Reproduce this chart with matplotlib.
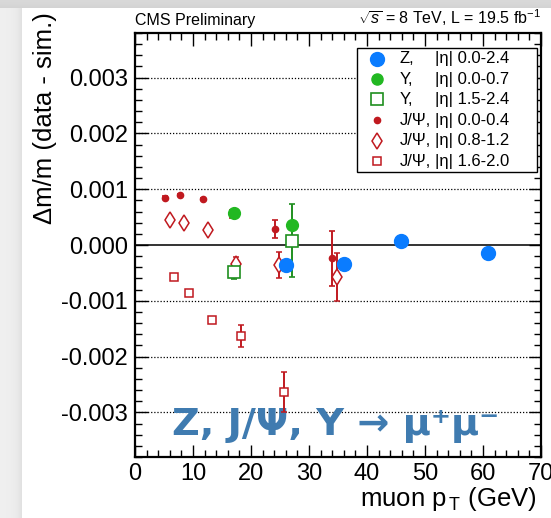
import numpy as np
import matplotlib
matplotlib.use("Agg")
import matplotlib.pyplot as plt
from matplotlib.ticker import MultipleLocator, FuncFormatter
from matplotlib.lines import Line2D
from matplotlib.patches import Rectangle

plt.rcParams['font.family'] = ['Liberation Sans', 'DejaVu Sans']
plt.rcParams['mathtext.fontset'] = 'custom'
plt.rcParams['mathtext.rm'] = 'Liberation Sans'
plt.rcParams['mathtext.it'] = 'Liberation Sans:italic'

# ---- measurements: relative mass shift (data - simulation) vs muon pT ----
z_pt = [26.0, 36.0, 45.9, 60.8]
z_val = [-0.00036, -0.00034, 0.00008, -0.00014]

ups_c_pt = [17.1, 27.0]
ups_c_val = [0.00058, 0.00036]
ups_c_err = [0.00005, 0.00005]

ups_f_pt = [17.1, 27.0]
ups_f_val = [-0.00049, 0.00008]
ups_f_err = [0.00012, 0.00066]

jpsi_c_pt = [5.2, 7.7, 11.7, 16.7, 24.1, 34.0]
jpsi_c_val = [0.00085, 0.00089, 0.00082, 0.00055, 0.00029, -0.00024]
jpsi_c_err = [0.00002, 0.00002, 0.00002, 0.00007, 0.00016, 0.00049]

jpsi_m_pt = [6.0, 8.45, 12.5, 17.4, 24.9, 34.9]
jpsi_m_val = [0.00045, 0.00039, 0.00026, -0.00034, -0.00036, -0.00057]
jpsi_m_err = [0.00002, 0.00002, 0.00002, 0.00012, 0.00023, 0.00043]

jpsi_f_pt = [6.8, 9.25, 13.2, 18.3, 25.7]
jpsi_f_val = [-0.00058, -0.00086, -0.00134, -0.00163, -0.00263]
jpsi_f_err = [0.00002, 0.00002, 0.00005, 0.00020, 0.00036]

legend_names = ["Z,", "Υ,", "Υ,", "J/Ψ,", "J/Ψ,", "J/Ψ,"]
legend_ranges = ["|η| 0.0-2.4", "|η| 0.0-0.7", "|η| 1.5-2.4",
                 "|η| 0.0-0.4", "|η| 0.8-1.2", "|η| 1.6-2.0"]

BLUE = "#0a7cff"
GREEN = "#22b822"
DGREEN = "#1f8f1f"
RED = "#c0191f"
TXT_BLUE = "#3f7bb0"

W, H = 551, 518
fig = plt.figure(figsize=(W / 100, H / 100), dpi=100)

# page backdrop with a soft shadow on the left and top
bg = fig.add_axes([0, 0, 1, 1], zorder=-10)
img = np.ones((H, W, 3))
xx = np.arange(W)[None, :]
yy = np.arange(H)[:, None]
card_x, card_y = 22, 8
gray = 0.94 - 0.07 * np.exp(-np.clip(card_x - xx, 0, None) / 5.0)
gray = np.where(yy < card_y, 0.85 - 0.03 * np.exp(-np.clip(card_y - yy, 0, None) / 3.0), gray)
mask = (xx < card_x) | (yy < card_y)
for c in range(3):
    img[..., c] = np.where(mask, gray, 1.0)
bg.imshow(img, aspect='auto', extent=[0, 1, 0, 1], origin='upper')
bg.axis('off')

ax = fig.add_axes([135 / W, 1 - 457 / H, 406 / W, 424 / H])
ax.set_xlim(0, 70)
ax.set_ylim(-0.0038, 0.0038)

for s in ax.spines.values():
    s.set_linewidth(1.6)

ax.xaxis.set_major_locator(MultipleLocator(10))
ax.xaxis.set_minor_locator(MultipleLocator(2))
ax.yaxis.set_major_locator(MultipleLocator(0.001))
ax.yaxis.set_minor_locator(MultipleLocator(0.0002))
ax.yaxis.set_major_formatter(FuncFormatter(lambda v, p: f"{v:.3f}".replace("-0.000", "0.000")))
ax.tick_params(which='both', direction='in', top=True, right=True, labelsize=17, width=1.0)
ax.tick_params(which='major', length=9)
ax.tick_params(which='minor', length=5)
ax.tick_params(axis='x', pad=4)
ax.tick_params(axis='y', pad=5)

# reference lines
for v in [-0.003, -0.002, -0.001, 0.001, 0.002, 0.003]:
    ax.axhline(v, color='black', lw=0.9, ls=(0, (1, 1.5)), zorder=1)
ax.axhline(0.0, color='#333333', lw=1.4, zorder=1)

# big process label
ax.text(0.09, 0.052, "Z, J/Ψ, Υ → μ⁺μ⁻", transform=ax.transAxes,
        fontsize=27.5, fontweight='bold', color=TXT_BLUE,
        family=['DejaVu Sans'], ha='left', va='baseline', zorder=2)

eb = dict(capsize=2.0, elinewidth=1.4, capthick=1.2, ls='none', zorder=4)
ax.errorbar(jpsi_c_pt, jpsi_c_val, yerr=jpsi_c_err, fmt='o', ms=4.5,
            color=RED, mec=RED, **eb)
ax.errorbar(jpsi_m_pt, jpsi_m_val, yerr=jpsi_m_err, fmt='d', ms=8.5,
            color=RED, mfc='white', mec=RED, mew=1.1, **eb)
ax.errorbar(jpsi_f_pt, jpsi_f_val, yerr=jpsi_f_err, fmt='s', ms=5.5,
            color=RED, mfc='white', mec=RED, mew=1.1, **eb)
ax.errorbar(ups_f_pt, ups_f_val, yerr=ups_f_err, fmt='s', ms=8.5,
            color=DGREEN, mfc='white', mec=DGREEN, mew=1.2, **eb)
ax.errorbar(ups_c_pt, ups_c_val, yerr=ups_c_err, fmt='o', ms=8.5,
            color=GREEN, mec=GREEN, **eb)
ax.plot(z_pt, z_val, 'o', ms=10, color=BLUE, mec=BLUE, ls='none', zorder=5)

# header texts
ax.text(0.0, 1.012, "CMS Preliminary", transform=ax.transAxes,
        fontsize=11.5, ha='left', va='bottom')
ax.text(1.0, 1.012, r"$\sqrt{s}$ = 8 TeV, L = 19.5 fb$^{-1}$", transform=ax.transAxes,
        fontsize=11.5, ha='right', va='bottom')

# axis titles
fig.text(45 / W, 1 - 12 / H, "Δm/m (data - sim.)", rotation=90,
         fontsize=18.5, ha='center', va='top')
fig.text(537 / W, 1 - 499 / H, r"muon p$_{\,\mathrm{T}}$ (GeV)",
         fontsize=18.5, ha='right', va='center')

# legend box
ax.add_patch(Rectangle((0.547, 0.672), 0.443, 0.2926, transform=ax.transAxes,
                       facecolor='white', edgecolor='black', lw=1.0, zorder=6))
legend_styles = [
    dict(marker='o', ms=10, color=BLUE, mec=BLUE),
    dict(marker='o', ms=8, color=GREEN, mec=GREEN),
    dict(marker='s', ms=8, mfc='white', mec=DGREEN, mew=1.2),
    dict(marker='o', ms=4.5, color=RED, mec=RED),
    dict(marker='d', ms=8, mfc='white', mec=RED, mew=1.1),
    dict(marker='s', ms=5.5, mfc='white', mec=RED, mew=1.1),
]
row_y = [0.9387, 0.8915, 0.8436, 0.7948, 0.746, 0.6974]
for name, rng, st, y in zip(legend_names, legend_ranges, legend_styles, row_y):
    ax.add_line(Line2D([0.595], [y], transform=ax.transAxes, ls='none', zorder=7, **st))
    ax.text(0.652, y, name, transform=ax.transAxes, fontsize=12, ha='left', va='center', zorder=7)
    ax.text(0.739, y, rng, transform=ax.transAxes, fontsize=12, ha='left', va='center', zorder=7)

fig.savefig("out.png", dpi=100)
